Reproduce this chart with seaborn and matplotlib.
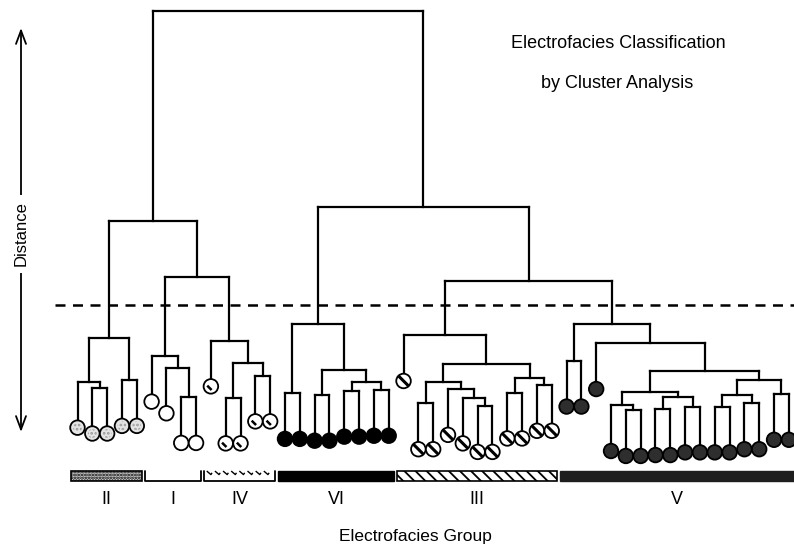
import numpy as np
import pandas as pd
import matplotlib
matplotlib.use("Agg")
import matplotlib.pyplot as plt
import seaborn as sns
from matplotlib.path import Path
from matplotlib.collections import LineCollection
from matplotlib.patches import Rectangle

# ---------------- data ----------------
# Each internal node: (merge distance, left subtree, right subtree); leaves carry their electrofacies group
tree_II = (27.2, (17.4, 'II', (16.1, 'II', 'II')), (17.8, 'II', 'II'))
tree_I = (23.2, 'I', (20.6, 'I', (14.0, 'I', 'I')))
tree_IV = (26.6, 'IV', (21.7, (13.9, 'IV', 'IV'), (18.8, 'IV', 'IV')))
tree_VI = (30.2, (14.9, 'VI', 'VI'),
           (20.0, (14.5, 'VI', 'VI'), (17.4, (15.4, 'VI', 'VI'), (15.6, 'VI', 'VI'))))
tree_III = (27.8, 'III',
            (21.4,
             (17.4, (12.6, 'III', 'III'), (15.8, 'III', (13.9, 'III', (12.0, 'III', 'III')))),
             (18.2, (15.0, 'III', 'III'), (16.7, 'III', 'III'))))
tree_V = (30.2, (22.1, 'V', 'V'),
          (26.0, 'V',
           (19.9,
            (15.2, (12.2, 'V', (11.1, 'V', 'V')), (14.1, (11.3, 'V', 'V'), (11.9, 'V', 'V'))),
            (17.8, (14.5, (11.9, 'V', 'V'), (12.6, 'V', 'V')), (14.7, 'V', 'V')))))
root_heights = [100.0, 53.2, 40.7, 56.4, 39.9]   # root, left, left-sub, right, right-sub
cut_distance = 34.5
group_order = ['II', 'I', 'IV', 'VI', 'III', 'V']
title_lines = ['Electrofacies Classification', 'by Cluster Analysis']
x_title = 'Electrofacies Group'
y_title = 'Distance'

root = (root_heights[0],
        (root_heights[1], tree_II, (root_heights[2], tree_I, tree_IV)),
        (root_heights[3], tree_VI, (root_heights[4], tree_III, tree_V)))

# ---------------- style ----------------
sns.set_theme(style="white")
plt.rcParams['font.family'] = ['Liberation Sans', 'DejaVu Sans']
plt.rcParams['text.color'] = 'black'
plt.rcParams['hatch.linewidth'] = 1.3

STEM = 10.2  # drawn length of a leaf stem
face = {'II': '#e4e4e4', 'I': 'white', 'IV': 'white', 'VI': 'black',
        'III': 'white', 'V': '#2e2e2e'}

# ---------------- layout ----------------
segs, leaves = [], []


def layout(node):
    if isinstance(node, str):
        leaves.append([len(leaves), None, node])
        return leaves[-1][0], None, len(leaves) - 1
    h, l, r = node
    xs = []
    for child in (l, r):
        cx, ch, idx = layout(child)
        if ch is None:
            ch = h - STEM
            leaves[idx][1] = ch
        segs.append([(cx, ch), (cx, h)])
        xs.append(cx)
    segs.append([(xs[0], h), (xs[1], h)])
    return (xs[0] + xs[1]) / 2, h, None


layout(root)
df = pd.DataFrame(leaves, columns=['leaf', 'distance', 'group'])

W, H = 794, 547
fig = plt.figure(figsize=(W / 100, H / 100), dpi=100)
ax = fig.add_axes([0, 0, 1, 1])
x0, sx = 77.5, 14.82
y0, sy = 460.0, 4.49
ax.set_xlim(-x0 / sx, (W - x0) / sx)
ax.set_ylim((y0 - H) / sy, y0 / sy)
ax.axis('off')

ax.add_collection(LineCollection(segs, colors='black', linewidths=1.6,
                                 capstyle='projecting', zorder=2))

sns.scatterplot(data=df, x='leaf', y='distance', hue='group', palette=face,
                edgecolor='black', linewidth=1.3, s=110, legend=False, zorder=3, ax=ax)


def mark(verts):
    v = [(-1, -1), (1, 1)] + verts
    codes = [Path.MOVETO, Path.MOVETO, Path.MOVETO] + [Path.LINETO] * (len(verts) - 1)
    return Path(v, codes)


d3 = df[df.group == 'III']
ax.scatter(d3.leaf, d3.distance, marker=mark([(-0.68, 0.68), (0.68, -0.68)]),
           s=110, facecolor='none', edgecolor='black', linewidths=2.2, zorder=4)
d4 = df[df.group == 'IV']
ax.scatter(d4.leaf, d4.distance, marker=mark([(-0.5, 0.1), (0.1, -0.5)]),
           s=110, facecolor='none', edgecolor='black', linewidths=1.8, zorder=4)
d2 = df[df.group == 'II']
ax.scatter(d2.leaf, d2.distance, s=40, marker='o', facecolor='none',
           edgecolor='#999999', hatch='....', linewidths=0, zorder=4)

# cut line
ax.plot([(55 - x0) / sx, (W - x0) / sx], [cut_distance, cut_distance], color='black',
        lw=1.8, dashes=(4, 3), zorder=2)

# group bars
bar_lo, bar_hi = (y0 - 481) / sy, (y0 - 471) / sy
label_y = (y0 - 499) / sy
for g in group_order:
    idx = df.leaf[df.group == g]
    a, b = idx.min() - 0.45, idx.max() + 0.35
    if g == 'II':
        ax.add_patch(Rectangle((a, bar_lo), b - a, bar_hi - bar_lo, fc='#d8d8d8',
                               ec='black', lw=1.2, hatch='......', zorder=2))
    elif g == 'I':
        ax.plot([a, a, b, b], [bar_hi, bar_lo, bar_lo, bar_hi], color='black', lw=1.3)
    elif g == 'IV':
        ax.plot([a, a, b, b], [bar_hi, bar_lo, bar_lo, bar_hi], color='black', lw=1.3)
        tx = np.arange(a + 0.35, b - 0.1, 0.55)
        ax.scatter(tx, np.full(len(tx), bar_hi - 0.6), marker=mark([(-0.9, 0.9), (0.5, -0.3), (0.9, 0.3)]),
                   s=18, facecolor='none', edgecolor='black', linewidths=1.0)
    elif g == 'VI':
        ax.add_patch(Rectangle((a, bar_lo), b - a, bar_hi - bar_lo, fc='black',
                               ec='black', lw=1.0))
    elif g == 'III':
        ax.add_patch(Rectangle((a, bar_lo), b - a, bar_hi - bar_lo, fc='white',
                               ec='black', lw=1.2, hatch='\\\\\\'))
    else:
        ax.add_patch(Rectangle((a, bar_lo), b - a, bar_hi - bar_lo, fc='#1e1e1e',
                               ec='#1e1e1e', lw=1.0))
    ax.text((a + b) / 2, label_y, g, ha='center', va='center', fontsize=13, color='black')

# texts
ax.text(618, H - 43, title_lines[0], transform=None, ha='center', va='center',
        fontsize=13, color='black')
ax.text(617, H - 83, title_lines[1], transform=None, ha='center', va='center',
        fontsize=13, color='black')
ax.text(415, H - 537, x_title, transform=None, ha='center', va='center',
        fontsize=12.5, color='black')
ax.annotate('', xy=(21, H - 28), xytext=(21, H - 432), xycoords='figure pixels',
            textcoords='figure pixels',
            arrowprops=dict(arrowstyle='<->,head_length=0.8,head_width=0.3', lw=1.3,
                            color='black', shrinkA=0, shrinkB=0))
ax.annotate(y_title, xy=(21, H - 234), xycoords='figure pixels', rotation=90,
            ha='center', va='center', fontsize=12, zorder=6, color='black',
            bbox=dict(fc='white', ec='none', pad=5))

fig.savefig('out.png', dpi=100)
